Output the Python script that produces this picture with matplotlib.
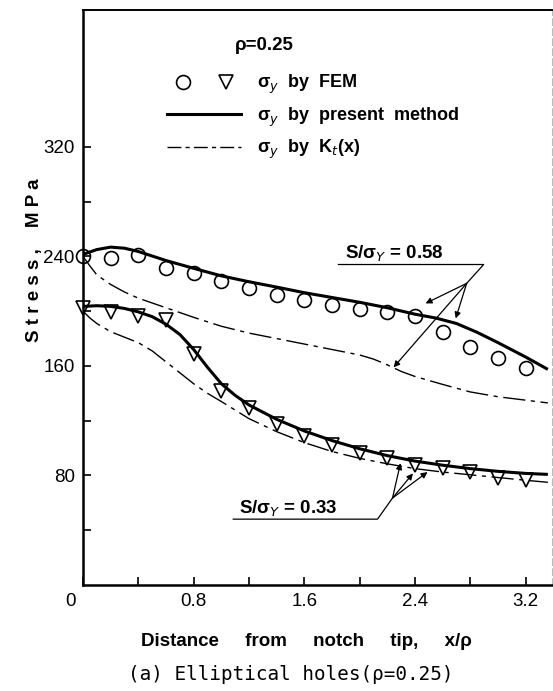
import matplotlib
matplotlib.use("Agg")
import matplotlib.pyplot as plt
import matplotlib.transforms as mtransforms
from matplotlib.legend_handler import HandlerTuple
from matplotlib.lines import Line2D

# FEM results, sampled every 0.2 x/rho
x_fem = [0.0, 0.2, 0.4, 0.6, 0.8, 1.0, 1.2, 1.4, 1.6, 1.8, 2.0, 2.2, 2.4, 2.6, 2.8, 3.0, 3.2]
fem_058 = [240.0, 239.2, 240.7, 231.2, 227.6, 221.7, 216.6, 211.5, 207.9, 204.2,
           201.3, 199.1, 196.2, 184.5, 173.6, 165.6, 158.3]
fem_033 = [202.0, 199.1, 196.2, 193.3, 168.5, 141.5, 129.1, 117.4, 108.7, 102.1,
           96.3, 92.6, 87.5, 85.3, 82.4, 78.0, 76.6]

# present method, S/sigma_Y = 0.58
x_pm_058 = [0.0, 0.1, 0.2, 0.3, 0.4, 0.6, 0.8, 1.0, 1.2, 1.4, 1.6, 1.8, 2.0, 2.2,
            2.4, 2.55, 2.7, 2.85, 3.0, 3.2, 3.36]
pm_058 = [241.5, 245.0, 246.8, 246.0, 243.6, 237.0, 231.3, 225.8, 221.5, 217.6, 213.5,
          210.0, 206.5, 202.5, 197.8, 195.0, 191.0, 184.5, 177.0, 166.5, 157.5]

# Kt(x) estimate, S/sigma_Y = 0.58
x_kt_058 = [0.0, 0.05, 0.1, 0.2, 0.3, 0.4, 0.6, 0.8, 1.0, 1.2, 1.4, 1.6, 1.8, 2.0,
            2.1, 2.2, 2.3, 2.4, 2.6, 2.8, 3.0, 3.2, 3.36]
kt_058 = [240.0, 233.0, 226.5, 219.5, 214.0, 209.5, 202.5, 195.5, 189.0, 184.0, 180.0,
          176.0, 172.0, 168.0, 165.0, 160.8, 156.0, 152.3, 146.5, 141.0, 137.5, 135.0, 133.0]

# present method, S/sigma_Y = 0.33
x_pm_033 = [0.0, 0.1, 0.2, 0.3, 0.4, 0.5, 0.6, 0.7, 0.8, 0.9, 1.0, 1.1, 1.2, 1.4,
            1.6, 1.8, 2.0, 2.2, 2.4, 2.6, 2.8, 3.0, 3.2, 3.36]
pm_033 = [203.5, 204.0, 203.5, 202.0, 199.5, 196.0, 190.5, 183.0, 172.0, 159.0, 147.0,
          138.5, 131.5, 121.0, 112.5, 105.5, 99.5, 94.5, 90.5, 87.5, 85.0, 83.0, 81.5, 80.8]

# Kt(x) estimate, S/sigma_Y = 0.33
x_kt_033 = [0.0, 0.05, 0.1, 0.2, 0.3, 0.4, 0.5, 0.6, 0.7, 0.8, 0.9, 1.0, 1.2, 1.4,
            1.6, 1.8, 2.0, 2.2, 2.4, 2.6, 2.8, 3.0, 3.2, 3.36]
kt_033 = [200.0, 195.0, 191.0, 185.0, 181.0, 177.0, 171.0, 163.0, 155.0, 147.0, 140.0,
          134.0, 121.5, 112.0, 104.0, 97.5, 92.5, 88.5, 85.0, 82.5, 80.5, 78.5, 76.5, 75.0]

x_major = [0.0, 0.8, 1.6, 2.4, 3.2]
x_minor = [0.4, 1.2, 2.0, 2.8]
y_major = [80, 160, 240, 320]
y_minor = [40, 120, 200, 280]

SANS = "Liberation Sans"
MONO = "DejaVu Sans Mono"
DASHDOT = (0, (16, 4, 3, 4))

fig = plt.figure(figsize=(5.53, 6.91), dpi=100)
ax = fig.add_axes([83 / 553, 106 / 691, 469 / 553, 575 / 691])
ax.set_xlim(0, 3.39)
ax.set_ylim(0, 420)

# curves
ax.plot(x_pm_058, pm_058, color="k", lw=2.2, solid_capstyle="butt", zorder=3)
ax.plot(x_pm_033, pm_033, color="k", lw=2.2, solid_capstyle="butt", zorder=3)
ax.plot(x_kt_058, kt_058, color="k", lw=1.0, linestyle=DASHDOT, zorder=2)
ax.plot(x_kt_033, kt_033, color="k", lw=1.0, linestyle=DASHDOT, zorder=2)
ax.plot(x_fem, fem_058, linestyle="none", marker="o", ms=10, mfc="none",
        mec="k", mew=1.2, zorder=2, clip_on=False)
ax.plot(x_fem, fem_033, linestyle="none", marker="v", ms=10, mfc="none",
        mec="k", mew=1.2, zorder=2, clip_on=False)

# axes styling
ax.set_xticks(x_major)
ax.set_xticks(x_minor, minor=True)
ax.set_xticklabels(["0", "0.8", "1.6", "2.4", "3.2"])
ax.set_yticks(y_major)
ax.set_yticks(y_minor, minor=True)
ax.set_yticklabels([str(v) for v in y_major])
ax.tick_params(which="both", direction="in", length=6, width=1.2, color="k")
ax.tick_params(axis="x", labelsize=13.5, pad=6)
ax.tick_params(axis="y", labelsize=13.5, pad=6)
for lab in ax.get_xticklabels() + ax.get_yticklabels():
    lab.set_family(SANS)
# the origin label sits a little left of the corner
zero_lab = ax.get_xticklabels()[0]
zero_lab.set_transform(zero_lab.get_transform() +
                       mtransforms.ScaledTranslation(-0.12, 0, fig.dpi_scale_trans))

for side in ("left", "bottom"):
    ax.spines[side].set_linewidth(1.8)
ax.spines["top"].set_linewidth(1.4)
ax.spines["right"].set_linewidth(0.8)
ax.spines["right"].set_color("#bbbbbb")
ax.spines["right"].set_linestyle((0, (6, 3)))

# legend
h_circle = Line2D([], [], linestyle="none", marker="o", ms=10, mfc="none", mec="k", mew=1.2)
h_tri = Line2D([], [], linestyle="none", marker="v", ms=10, mfc="none", mec="k", mew=1.2)
h_solid = Line2D([], [], color="k", lw=2.2)
h_dash = Line2D([], [], color="k", lw=1.0, linestyle=(0, (10, 3, 3, 3)))
leg = ax.legend([(h_circle, h_tri), h_solid, h_dash],
                ["σ$_y$  by  FEM", "σ$_y$  by  present  method", "σ$_y$  by  K$_t$(x)"],
                handler_map={tuple: HandlerTuple(ndivide=None, pad=0.6)},
                loc="upper left", bbox_to_anchor=(0.18, 0.89), frameon=False,
                numpoints=1, handlelength=4.1, handletextpad=0.85, labelspacing=0.5,
                borderpad=0, borderaxespad=0,
                prop={"family": SANS, "weight": "bold", "size": 13})

ax.text(1.31, 394, "ρ=0.25", ha="center", va="center", fontsize=13.5,
        fontweight="bold", family=SANS)

# S/sigma_Y = 0.58 callout
ax.text(2.25, 234.5, "S/σ$_Y$ = 0.58", ha="center", va="bottom", fontsize=13.5,
        fontweight="bold", family=SANS)
ax.plot([1.846, 2.896, 2.773], [234.1, 234.1, 220.3], color="k", lw=0.9)
for tx, ty in [(2.476, 205.7), (2.694, 194.7), (2.245, 159.0)]:
    ax.annotate("", xy=(tx, ty), xytext=(2.773, 220.3),
                arrowprops=dict(arrowstyle="-|>", color="k", lw=0.9,
                                mutation_scale=9, shrinkA=0, shrinkB=0))

# S/sigma_Y = 0.33 callout
ax.text(1.48, 48.3, "S/σ$_Y$ = 0.33", ha="center", va="bottom", fontsize=13.5,
        fontweight="bold", family=SANS)
ax.plot([1.086, 2.129, 2.237], [48.1, 48.1, 63.5], color="k", lw=0.9)
for tx, ty in [(2.295, 89.0), (2.385, 81.5), (2.49, 82.5)]:
    ax.annotate("", xy=(tx, ty), xytext=(2.237, 63.5),
                arrowprops=dict(arrowstyle="-|>", color="k", lw=0.9,
                                mutation_scale=9, shrinkA=0, shrinkB=0))

# axis titles and caption
fig.text(306 / 553, 1 - 641 / 691, "Distance     from     notch     tip,     x/ρ",
         ha="center", va="center", fontsize=13.5, fontweight="bold", family=SANS)
fig.text(35 / 553, 1 - 260 / 691, "S t r e s s ,    M P a", ha="center", va="center",
         rotation=90, fontsize=13.5, fontweight="bold", family=SANS)
fig.text(291 / 553, 1 - 675 / 691, "(a) Elliptical holes(ρ=0.25)",
         ha="center", va="center", fontsize=13.9, family=MONO)

fig.savefig("out.png", dpi=100)
